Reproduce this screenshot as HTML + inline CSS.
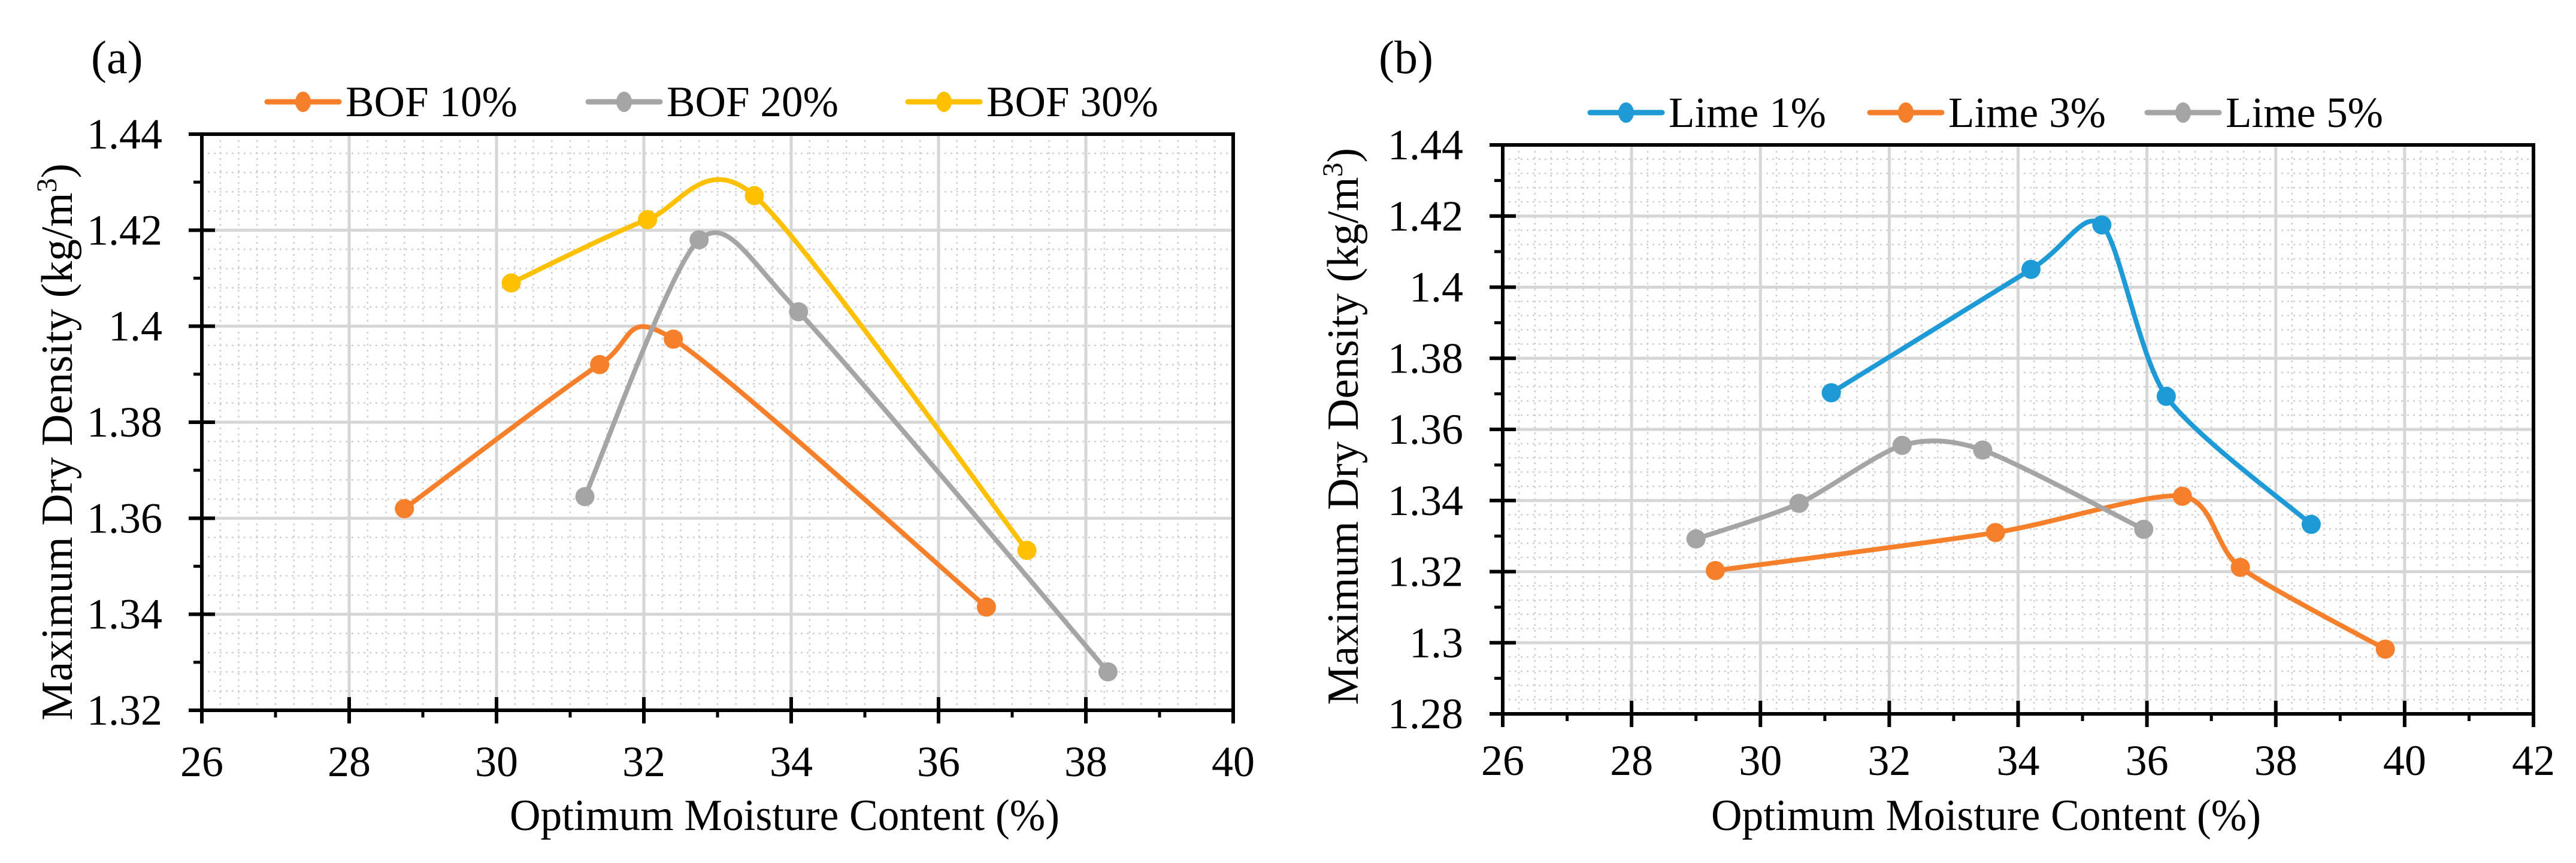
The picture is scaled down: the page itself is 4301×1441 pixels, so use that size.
<!DOCTYPE html>
<html><head><meta charset="utf-8"><style>
html,body{margin:0;padding:0;background:#fff;}
svg{display:block;}
text{font-family:"Liberation Serif",serif;fill:#000;}
</style></head><body>
<svg id="chart" width="4301" height="1441" viewBox="0 0 4301 1441"></svg>
<script>
// ---------- Data ----------
const aSeriesNames = ["BOF 10%","BOF 20%","BOF 30%"];
const aColors = ["#F57F2A","#A5A5A5","#FFC000"];
const aX10 = [28.75, 31.4, 32.4, 36.65];
const aY10 = [1.362, 1.392, 1.3973, 1.3415];
const aX20 = [31.2, 32.75, 34.1, 38.3];
const aY20 = [1.3645, 1.418, 1.403, 1.328];
const aX30 = [30.2, 32.05, 33.5, 37.2];
const aY30 = [1.409, 1.4222, 1.4272, 1.3533];
const aXTicks = [26,28,30,32,34,36,38,40];
const aYTicks = [1.32,1.34,1.36,1.38,1.4,1.42,1.44];
const aYTickLabels = ["1.32","1.34","1.36","1.38","1.4","1.42","1.44"];

const bSeriesNames = ["Lime 1%","Lime 3%","Lime 5%"];
const bColors = ["#1E9AD6","#F57F2A","#A5A5A5"];
const bX1 = [31.1, 34.2, 35.3, 36.3, 38.55];
const bY1 = [1.3703, 1.405, 1.4175, 1.3693, 1.3333];
const bX3 = [29.3, 33.65, 36.55, 37.45, 39.7];
const bY3 = [1.3203, 1.331, 1.3412, 1.3212, 1.2982];
const bX5 = [29.0, 30.6, 32.2, 33.45, 35.95];
const bY5 = [1.3292, 1.3392, 1.3555, 1.3542, 1.3319];
const bXTicks = [26,28,30,32,34,36,38,40,42];
const bYTicks = [1.28,1.3,1.32,1.34,1.36,1.38,1.4,1.42,1.44];
const bYTickLabels = ["1.28","1.3","1.32","1.34","1.36","1.38","1.4","1.42","1.44"];

const NS = "http://www.w3.org/2000/svg";
const svg = document.getElementById("chart");
function mk(tag, attrs, parent){
  const e = document.createElementNS(NS, tag);
  for (const k in attrs) e.setAttribute(k, attrs[k]);
  (parent||svg).appendChild(e);
  return e;
}

function smoothPath(pts){
  let d = "M" + pts[0][0] + "," + pts[0][1];
  const t = 0.13;
  for (let i=0;i<pts.length-1;i++){
    const p0 = pts[i-1]||pts[i], p1 = pts[i], p2 = pts[i+1], p3 = pts[i+2]||pts[i+1];
    const c1x = p1[0] + (p2[0]-p0[0])*t, c1y = p1[1] + (p2[1]-p0[1])*t;
    const c2x = p2[0] - (p3[0]-p1[0])*t, c2y = p2[1] - (p3[1]-p1[1])*t;
    d += " C" + c1x + "," + c1y + " " + c2x + "," + c2y + " " + p2[0] + "," + p2[1];
  }
  return d;
}

function drawChart(cfg){
  const g = mk("g", {});
  
  
  const L=cfg.left, R=cfg.right, T=cfg.top, B=cfg.bottom;
  const xMin=cfg.xTicks[0], xMax=cfg.xTicks[cfg.xTicks.length-1];
  const yMin=cfg.yTicks[0], yMax=cfg.yTicks[cfg.yTicks.length-1];
  const sx = v => L + (v-xMin)/(xMax-xMin)*(R-L);
  const sy = v => B - (v-yMin)/(yMax-yMin)*(B-T);

  const grid = mk("g", {}, g);
  
  
  for (let v=xMin; v<xMax-1e-9; v+=0.25){
    if (Math.abs(v-Math.round(v/2)*2)<1e-6) continue;
    mk("line",{x1:sx(v),x2:sx(v),y1:T,y2:B,stroke:"#cfcfcf","stroke-width":2.5,"stroke-dasharray":"3 7"},grid);
  }
  const yStep = (cfg.yTicks[1]-cfg.yTicks[0])/5;
  for (let i=1;i<(cfg.yTicks.length-1)*5;i++){
    if (i%5===0) continue;
    const v = yMin + i*yStep;
    mk("line",{x1:L,x2:R,y1:sy(v),y2:sy(v),stroke:"#cfcfcf","stroke-width":2.5,"stroke-dasharray":"3 7"},grid);
  }
  cfg.xTicks.forEach(v=>{ if(v!==xMin && v!==xMax) mk("line",{x1:sx(v),x2:sx(v),y1:T,y2:B,stroke:"#d6d6d6","stroke-width":5},grid); });
  cfg.yTicks.forEach(v=>{ if(v!==yMin && v!==yMax) mk("line",{x1:L,x2:R,y1:sy(v),y2:sy(v),stroke:"#d6d6d6","stroke-width":5},grid); });

  const frame = mk("rect",{x:L,y:T,width:R-L,height:B-T,fill:"none",stroke:"#000","stroke-width":6},g);
  
  

  cfg.xTicks.forEach((v,i)=>{
    mk("line",{x1:sx(v),x2:sx(v),y1:B-22,y2:B+22,stroke:"#000","stroke-width":6},g);
    if (i<cfg.xTicks.length-1) mk("line",{x1:sx(v+1),x2:sx(v+1),y1:B,y2:B+12,stroke:"#000","stroke-width":5},g);
    const t = mk("text",{x:sx(v),y:cfg.xLabelY,"font-size":72,"text-anchor":"middle"},g);
    t.textContent = v;
    
    
  });
  cfg.yTicks.forEach((v,i)=>{
    mk("line",{x1:L-22,x2:L+22,y1:sy(v),y2:sy(v),stroke:"#000","stroke-width":6},g);
    if (i<cfg.yTicks.length-1) mk("line",{x1:L-14,x2:L,y1:sy(v+yStep*2.5),y2:sy(v+yStep*2.5),stroke:"#000","stroke-width":5},g);
    const t = mk("text",{x:L-66,y:sy(v)+24,"font-size":72,"text-anchor":"end"},g);
    t.textContent = cfg.yTickLabels[i];
    
    
  });

  cfg.series.forEach((s,k)=>{
    const sg = mk("g",{},g);
    
    
    const pts = s.x.map((xv,i)=>[sx(xv), sy(s.y[i])]);
    mk("path",{d:smoothPath(pts),fill:"none",stroke:s.color,"stroke-width":8,"stroke-linejoin":"round","stroke-linecap":"round"},sg);
    pts.forEach(p=>{
      const c = mk("circle",{cx:p[0],cy:p[1],r:16,fill:s.color},sg);
      
      
    });
  });

  cfg.series.forEach((s,k)=>{
    const lg = mk("g",{},g);
    
    
    const lx = cfg.legendX[k];
    mk("line",{x1:lx,x2:lx+120,y1:cfg.legendY,y2:cfg.legendY,stroke:s.color,"stroke-width":9,"stroke-linecap":"round"},lg);
    mk("ellipse",{cx:lx+60,cy:cfg.legendY,rx:13,ry:17,fill:s.color},lg);
    const t = mk("text",{x:lx+131,y:cfg.legendY+24,"font-size":72,textLength:cfg.legendW,lengthAdjust:"spacingAndGlyphs"},lg);
    t.textContent = s.name;
  });

  const pl = mk("text",{x:cfg.panelX,y:cfg.panelY,"font-size":78},g);
  pl.textContent = cfg.panel;
  
  

  const xt = mk("text",{x:cfg.xTitleX,y:cfg.xTitleY,"font-size":74,"text-anchor":"middle",textLength:918,lengthAdjust:"spacingAndGlyphs"},g);
  xt.textContent = "Optimum Moisture Content (%)";
  
  
  const yt = mk("text",{x:0,y:0,"font-size":74,"text-anchor":"middle",textLength:cfg.yTitleLen,lengthAdjust:"spacingAndGlyphs",transform:"translate("+cfg.yTitleX+","+cfg.yTitleY+") rotate(-90)"},g);
  yt.innerHTML = 'Maximum Dry Density  (kg/m<tspan dy="-26" font-size="48">3</tspan><tspan dy="26">)</tspan>';
  
  
}

drawChart({
  id:"a", panel:"(a)", panelX:152, panelY:122,
  left:337, right:2059, top:224, bottom:1186,
  xTicks:aXTicks, yTicks:aYTicks, yTickLabels:aYTickLabels,
  xLabelY:1296, xTitleX:1310, xTitleY:1386,
  yTitleX:120, yTitleY:738, yTitleLen:930,
  legendX:[446,982,1516], legendY:170, legendW:287,
  series:[
    {name:aSeriesNames[0], color:aColors[0], x:aX10, y:aY10},
    {name:aSeriesNames[1], color:aColors[1], x:aX20, y:aY20},
    {name:aSeriesNames[2], color:aColors[2], x:aX30, y:aY30}
  ]
});
drawChart({
  id:"b", panel:"(b)", panelX:2302, panelY:122,
  left:2509, right:4230, top:242, bottom:1192,
  xTicks:bXTicks, yTicks:bYTicks, yTickLabels:bYTickLabels,
  xLabelY:1294, xTitleX:3316, xTitleY:1386,
  yTitleX:2267, yTitleY:712, yTitleLen:930,
  legendX:[2655,3122,3585], legendY:188, legendW:263,
  series:[
    {name:bSeriesNames[0], color:bColors[0], x:bX1, y:bY1},
    {name:bSeriesNames[1], color:bColors[1], x:bX3, y:bY3},
    {name:bSeriesNames[2], color:bColors[2], x:bX5, y:bY5}
  ]
});
</script>
</body></html>
